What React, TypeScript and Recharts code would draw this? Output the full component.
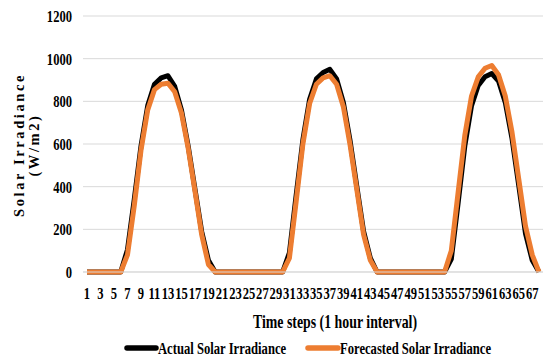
import React from 'react';
import { LineChart, Line, XAxis, YAxis, CartesianGrid, Legend, Label } from 'recharts';

const steps: number[] = [
  1, 2, 3, 4, 5, 6, 7, 8, 9, 10, 11, 12, 13, 14, 15, 16, 17, 18, 19, 20,
  21, 22, 23, 24, 25, 26, 27, 28, 29, 30, 31, 32, 33, 34, 35, 36, 37, 38, 39, 40,
  41, 42, 43, 44, 45, 46, 47, 48, 49, 50, 51, 52, 53, 54, 55, 56, 57, 58, 59, 60,
  61, 62, 63, 64, 65, 66, 67, 68,
];

const actual: number[] = [
  0, 0, 0, 0, 0, 0, 105, 340, 590, 780, 880, 910, 920, 870, 760, 590, 390, 190, 55, 0,
  0, 0, 0, 0, 0, 0, 0, 0, 0, 0, 90, 360, 620, 810, 905, 935, 950, 905, 795, 615,
  400, 190, 65, 0, 0, 0, 0, 0, 0, 0, 0, 0, 0, 0, 60, 320, 590, 780, 875, 915,
  930, 895, 795, 625, 405, 180, 55, 0,
];

const forecast: number[] = [
  0, 0, 0, 0, 0, 0, 80, 310, 570, 760, 855, 880, 885, 845, 745, 580, 380, 175, 35, 0,
  0, 0, 0, 0, 0, 0, 0, 0, 0, 0, 65, 330, 600, 790, 880, 910, 920, 880, 775, 595,
  385, 175, 55, 0, 0, 0, 0, 0, 0, 0, 0, 0, 0, 0, 100, 370, 640, 825, 915, 955,
  968, 925, 825, 655, 435, 215, 80, 0,
];

const yTicks: number[] = [0, 200, 400, 600, 800, 1000, 1200];
const seriesNames: string[] = ['Actual Solar Irradiance', 'Forecasted Solar Irradiance'];
const colors: string[] = ['#000000', '#ED7D31'];
const xTitle = 'Time steps (1 hour interval)';
const yTitle: string[] = ['Solar Irradiance', '(W/m2)'];

const data = steps.map((s, i) => ({ step: s, actual: actual[i], forecast: forecast[i] }));

const FONT = '"Liberation Serif", "Times New Roman", serif';

const XTick = (props: any) => {
  const { x, y, payload } = props;
  return (
    <g transform={`translate(${x},${y})`}>
      <text
        transform="scale(0.74,1)"
        x={0}
        y={0}
        dy={19.5}
        textAnchor="middle"
        fontFamily={FONT}
        fontWeight="bold"
        fontSize={17}
        fill="#000"
      >
        {payload.value}
      </text>
    </g>
  );
};

const YTick = (props: any) => {
  const { x, y, payload } = props;
  return (
    <g transform={`translate(${x},${y})`}>
      <text
        transform="scale(0.74,1)"
        x={0}
        y={0}
        dy={6}
        textAnchor="end"
        fontFamily={FONT}
        fontWeight="bold"
        fontSize={17}
        fill="#000"
      >
        {payload.value}
      </text>
    </g>
  );
};

const XTitle = () => (
  <g transform="translate(335,328)">
    <text
      transform="scale(0.77,1)"
      textAnchor="middle"
      fontFamily={FONT}
      fontWeight="bold"
      fontSize={18}
      fill="#000"
    >
      {xTitle}
    </text>
  </g>
);

const YTitle = () => (
  <g>
    <text
      transform="rotate(-90, 19, 145)"
      x={19}
      y={145}
      dy={5}
      textAnchor="middle"
      fontFamily={FONT}
      fontWeight="bold"
      fontSize={14.5}
      letterSpacing={2.6}
      fill="#000"
    >
      {yTitle[0]}
    </text>
    <text
      transform="rotate(-90, 34, 145)"
      x={34}
      y={145}
      dy={5}
      textAnchor="middle"
      fontFamily={FONT}
      fontWeight="bold"
      fontSize={14.5}
      letterSpacing={2.6}
      fill="#000"
    >
      {yTitle[1]}
    </text>
  </g>
);

const LegendContent = () => {
  const items = [
    { x1: 127, x2: 156, tx: 158 },
    { x1: 308, x2: 338, tx: 340 },
  ];
  return (
    <svg width={543} height={24} style={{ display: 'block' }}>
      {items.map((it, i) => (
        <g key={i}>
          <line x1={it.x1} x2={it.x2} y1={11} y2={11} stroke={colors[i]} strokeWidth={5.5} strokeLinecap="round" />
          <g transform={`translate(${it.tx},16.5)`}>
            <text transform="scale(0.79,1)" fontFamily={FONT} fontWeight="bold" fontSize={16} fill="#000">
              {seriesNames[i]}
            </text>
          </g>
        </g>
      ))}
    </svg>
  );
};

export default function App() {
  return (
    <div style={{ position: 'absolute', left: 0, top: 0, width: 543, height: 361, background: '#fff' }}>
      <LineChart width={543} height={361} data={data} margin={{ top: 16, right: 0, bottom: 0, left: 0 }}>
        <CartesianGrid vertical={false} stroke="#d9d9d9" strokeWidth={1} />
        <XAxis
          dataKey="step"
          type="category"
          interval={1}
          height={89}
          padding={{ left: 4, right: 4 }}
          axisLine={{ stroke: '#d9d9d9' }}
          tickLine={false}
          tick={<XTick />}
        >
          <Label content={<XTitle />} />
        </XAxis>
        <YAxis
          width={83}
          domain={[0, 1200]}
          ticks={yTicks}
          axisLine={false}
          tickLine={false}
          tickMargin={5}
          tick={<YTick />}
        >
          <Label content={<YTitle />} />
        </YAxis>
        <Legend
          layout="horizontal"
          verticalAlign="middle"
          align="center"
          wrapperStyle={{ top: 337, left: 0, width: 543, height: 24 }}
          content={<LegendContent />}
        />
        <Line
          type="linear"
          dataKey="actual"
          name={seriesNames[0]}
          stroke={colors[0]}
          strokeWidth={5}
          dot={false}
          strokeLinejoin="round"
          isAnimationActive={false}
        />
        <Line
          type="linear"
          dataKey="forecast"
          name={seriesNames[1]}
          stroke={colors[1]}
          strokeWidth={5}
          dot={false}
          strokeLinejoin="round"
          isAnimationActive={false}
        />
      </LineChart>
    </div>
  );
}
